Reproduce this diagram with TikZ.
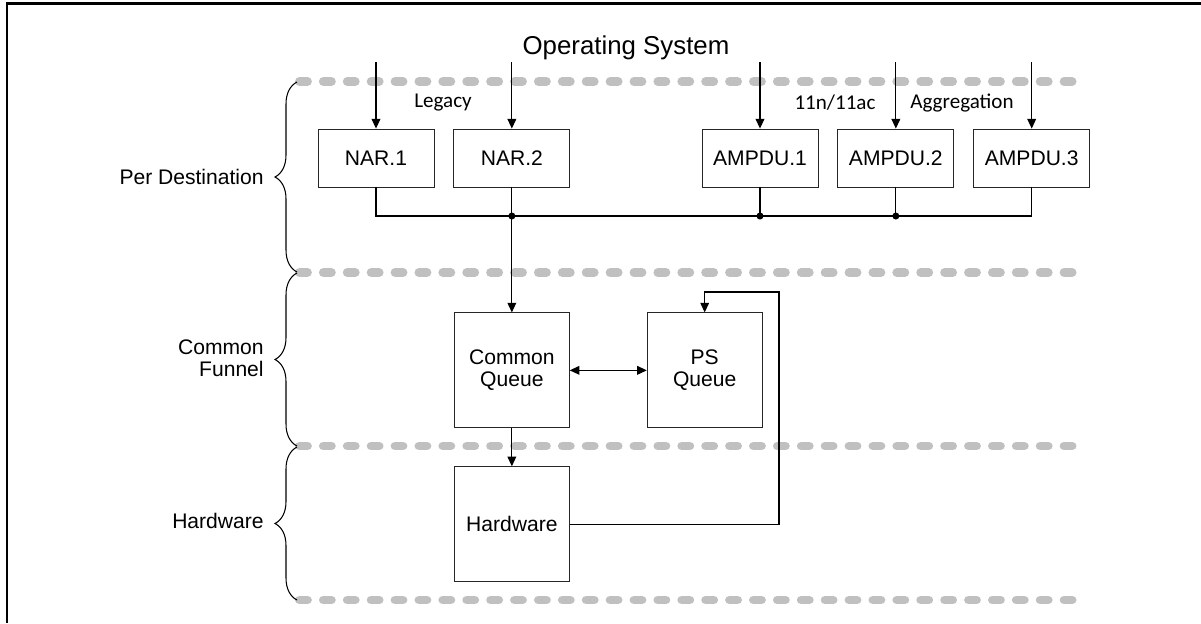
\documentclass[tikz,border=0pt]{standalone}
\usepackage{fontspec}
\setmainfont{Liberation Sans}
\newfontfamily\calibri{Carlito}
\usetikzlibrary{arrows.meta, positioning, decorations.pathreplacing}
\usepackage{xcolor}
\definecolor{layergray}{HTML}{C0C0C0}

\begin{document}
\begin{tikzpicture}[
x=0.02cm, y=-0.02cm,
box/.style={draw=black!85, rectangle, line width=0.5pt,
minimum width=2.32cm,
minimum height=1.16cm,
inner sep=0pt,
font=\fontsize{12}{12.5}\selectfont,
align=center},
queue/.style={box, minimum width=2.3cm, minimum height=2.3cm},
arrow/.style={-{Triangle[length=5.5pt, width=5pt]}, line width=0.6pt},
dblarrow/.style={{Triangle[length=5.5pt, width=5pt]}-{Triangle[length=5.5pt, width=5pt]}, line width=0.6pt},
wire/.style={line width=0.6pt},
layer/.style={layergray, line width=5.1pt, line cap=round, dash pattern=on 4.5pt off 9.1pt},
bracket/.style={decorate, decoration={brace, amplitude=0.44cm}, line width=0.6pt},
side/.style={anchor=east, inner sep=0pt, align=right, font=\fontsize{12}{12.5}\selectfont},
tag/.style={font=\calibri\fontsize{12}{14}\selectfont, inner sep=0pt}
]

\useasboundingbox (0,0) rectangle (1201,623);
\draw[line width=1.2pt] (7,623) -- (7,3.5) -- (1201,3.5);

% layer boundaries
\foreach \y in {81.5, 272.5, 446, 600}
  \draw[layer] (299.5,\y) -- (1076,\y);

\node[font=\fontsize{14.7}{16}\selectfont] (os) at (626,48) {Operating System};
\coordinate (top) at (0,62);
\coordinate (busy) at (0,216);
\coordinate (loop) at (779,292);

% per destination queues
\node[box] (nar1) at (376,158) {NAR.1};
\node[box, right=0.38cm of nar1] (nar2) {NAR.2};
\node[box] (ampdu1) at (760,158) {AMPDU.1};
\node[box, right=0.38cm of ampdu1] (ampdu2) {AMPDU.2};
\node[box, right=0.38cm of ampdu2] (ampdu3) {AMPDU.3};

\node[tag] (legacy) at (443,103) {Legacy};
\node[tag] (ht) at (835,103) {11n/11ac};
\node[tag] (aggr) at (962,103) {Aggregation};

% common funnel and hardware
\node[queue, below=2.5cm of nar2] (cq) {Common\\Queue};
\node[queue, right=1.54cm of cq] (ps) {PS\\Queue};
\node[queue, below=0.76cm of cq] (hw) {Hardware};

\foreach \n in {nar1, nar2, ampdu1, ampdu2, ampdu3}
  \draw[arrow] (\n.north |- top) -- (\n.north);

\draw[wire] (nar1.south) |- (nar2.south |- busy) -- (ampdu2.south |- busy) -| (ampdu3.south);
\foreach \n in {nar2, ampdu1, ampdu2} {
  \draw[wire] (\n.south) -- (\n.south |- busy);
  \fill (\n.south |- busy) circle (2pt);
}

\draw[arrow] (nar2.south |- busy) -- (cq.north);
\draw[dblarrow] (cq.east) -- (ps.west);
\draw[arrow] (cq.south) -- (hw.north);
\draw[arrow] (hw.east) -| (loop) -| (ps.north);

% layer braces
\draw[bracket] (297,272) -- (297,82);
\draw[bracket] (297,446) -- (297,273);
\draw[bracket] (297,600) -- (297,447);

\node[side] (perdest) at (264,177) {Per Destination};
\node[side] (funnel) at (264,358) {Common\\Funnel};
\node[side] (hwlabel) at (264,521) {Hardware};

\end{tikzpicture}
\end{document}
